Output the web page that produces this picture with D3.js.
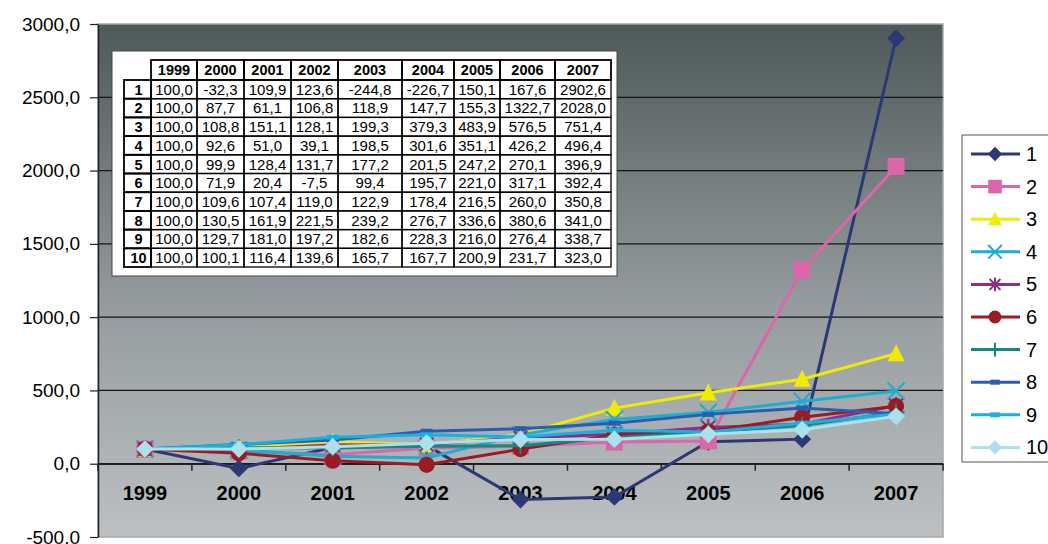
<!DOCTYPE html>
<html><head><meta charset="utf-8">
<script src="https://cdn.jsdelivr.net/npm/d3@7"></script>
<style>html,body{margin:0;padding:0;background:#fff;}svg{display:block;font-family:"Liberation Sans",Arial,sans-serif;}</style>
</head><body>
<svg id="chart" width="1048" height="544"></svg>
<script>
const years = ["1999","2000","2001","2002","2003","2004","2005","2006","2007"];
const seriesNames = ["1","2","3","4","5","6","7","8","9","10"];
const s1 = [100.0,-32.3,109.9,123.6,-244.8,-226.7,150.1,167.6,2902.6];
const s2 = [100.0,87.7,61.1,106.8,118.9,147.7,155.3,1322.7,2028.0];
const s3 = [100.0,108.8,151.1,128.1,199.3,379.3,483.9,576.5,751.4];
const s4 = [100.0,92.6,51.0,39.1,198.5,301.6,351.1,426.2,496.4];
const s5 = [100.0,99.9,128.4,131.7,177.2,201.5,247.2,270.1,396.9];
const s6 = [100.0,71.9,20.4,-7.5,99.4,195.7,221.0,317.1,392.4];
const s7 = [100.0,109.6,107.4,119.0,122.9,178.4,216.5,260.0,350.8];
const s8 = [100.0,130.5,161.9,221.5,239.2,276.7,336.6,380.6,341.0];
const s9 = [100.0,129.7,181.0,197.2,182.6,228.3,216.0,276.4,338.7];
const s10 = [100.0,100.1,116.4,139.6,165.7,167.7,200.9,231.7,323.0];
const yTicks = [-500,0,500,1000,1500,2000,2500,3000];

const seriesValues = [s1,s2,s3,s4,s5,s6,s7,s8,s9,s10];
const colors = ["#2c3875","#db66a9","#f0ec00","#1aaed0","#8c2d8c","#9a1c22","#17877f","#2a5db0","#14b2e4","#ace0ec"];
const markers = ["diamond","square","triangle","x","asterisk","circle","plus","dash","dash","diamond"];

const fmt = v => d3.format(".1f")(v).replace(".", ",").replace("−","-");

const svg = d3.select("#chart");
const L = 98, R = 943, T = 24, B = 537;

const x = d3.scaleBand().domain(years).range([L, R]).padding(0);
const y = d3.scaleLinear().domain([-500, 3000]).range([B, T]);

// background gradient
const defs = svg.append("defs");
const grad = defs.append("linearGradient").attr("id","bg").attr("x1",0).attr("y1",0).attr("x2",0).attr("y2",1);
grad.append("stop").attr("offset","0%").attr("stop-color","#4f5959");
grad.append("stop").attr("offset","55%").attr("stop-color","#959b9e");
grad.append("stop").attr("offset","100%").attr("stop-color","#bcc0c3");
svg.append("rect").attr("x",L).attr("y",T).attr("width",R-L).attr("height",B-T)
  .attr("fill","url(#bg)").attr("stroke","#a8a8a8").attr("stroke-width",1.5);

// gridlines
svg.append("g").selectAll("line").data(yTicks.filter(t => t > -500 && t < 3000)).join("line")
  .attr("x1",L).attr("x2",R).attr("y1",d=>y(d)).attr("y2",d=>y(d))
  .attr("stroke","#151515").attr("stroke-width",1.2);

// y axis
const yAxis = svg.append("g").attr("transform",`translate(${L},0)`)
  .call(d3.axisLeft(y).tickValues(yTicks).tickFormat(fmt).tickSize(8).tickPadding(10).tickSizeOuter(0));
yAxis.select(".domain").attr("stroke","#222").attr("stroke-width",1.5);
yAxis.selectAll(".tick line").attr("stroke","#222").attr("stroke-width",1.2);
yAxis.selectAll("text").attr("font-size",19).attr("fill","#000").attr("font-family","'Liberation Sans',Arial,sans-serif");

// x axis at 0
const x0 = y(0);
const xAxis = svg.append("g").attr("transform",`translate(0,${x0})`)
  .call(d3.axisBottom(x).tickSize(0).tickPadding(22).tickSizeOuter(0));
xAxis.select(".domain").attr("stroke","#222").attr("stroke-width",1.5);
xAxis.selectAll("text").attr("font-size",20).attr("font-weight","bold").attr("fill","#000")
  .attr("font-family","'Liberation Sans',Arial,sans-serif");
const bounds = years.map(d => x(d)).concat([x.range()[1]]);
svg.append("g").selectAll("line").data(bounds).join("line")
  .attr("x1",d=>d).attr("x2",d=>d).attr("y1",x0).attr("y2",x0+7)
  .attr("stroke","#222").attr("stroke-width",1.5);

// marker drawing
function drawMarker(g, type, color, s) {
  const r = 8.5 * s;
  switch(type) {
    case "diamond":
      g.append("path").attr("d",`M0,${-r*1.05}L${r*1.05},0L0,${r*1.05}L${-r*1.05},0Z`).attr("fill",color); break;
    case "square":
      g.append("rect").attr("x",-r).attr("y",-r).attr("width",2*r).attr("height",2*r).attr("fill",color); break;
    case "triangle":
      g.append("path").attr("d",`M0,${-r*1.1}L${r},${r*0.9}L${-r},${r*0.9}Z`).attr("fill",color); break;
    case "circle":
      g.append("circle").attr("r",r*0.95).attr("fill",color); break;
    case "x":
      g.append("path").attr("d",`M${-r},${-r}L${r},${r}M${-r},${r}L${r},${-r}`).attr("stroke",color).attr("stroke-width",2); break;
    case "asterisk":
      g.append("path").attr("d",`M${-r*0.8},${-r*0.8}L${r*0.8},${r*0.8}M${-r*0.8},${r*0.8}L${r*0.8},${-r*0.8}M0,${-r}L0,${r}`).attr("stroke",color).attr("stroke-width",2); break;
    case "plus":
      g.append("path").attr("d",`M0,${-r}L0,${r}M${-r},0L${r},0`).attr("stroke",color).attr("stroke-width",2); break;
    case "dash":
      g.append("rect").attr("x",-r*0.7).attr("y",-2.5).attr("width",r*1.4).attr("height",5).attr("fill",color); break;
  }
}

// series
const line = d3.line().x((d,i)=>x(years[i])+x.bandwidth()/2).y(d=>y(d));
const sg = svg.append("g");
seriesValues.forEach((vals, k) => {
  const g = sg.append("g");
  g.append("path").attr("d", line(vals)).attr("fill","none").attr("stroke",colors[k]).attr("stroke-width",3);
  vals.forEach((v,i) => {
    const mg = g.append("g").attr("transform",`translate(${x(years[i])+x.bandwidth()/2},${y(v)})`);
    drawMarker(mg, markers[k], colors[k], 1);
  });
});

// data table
const tb = svg.append("g");
tb.append("rect").attr("x",112).attr("y",51).attr("width",505).attr("height",225)
  .attr("fill","#fff").attr("stroke","#444").attr("stroke-width",1);
const colEdges = [151,197,244,291,338,402,454,500,555,611];
const labelLeft = 124, headTop = 60, rowTop = 80, rowH = 18.7;
years.forEach((yr,i) => {
  tb.append("rect").attr("x",colEdges[i]).attr("y",headTop).attr("width",colEdges[i+1]-colEdges[i]).attr("height",rowTop-headTop)
    .attr("fill","none").attr("stroke","#000").attr("stroke-width",1.8);
  tb.append("text").attr("x",(colEdges[i]+colEdges[i+1])/2).attr("y",rowTop-5).attr("text-anchor","middle")
    .attr("font-size",14.5).attr("font-weight","bold").text(yr);
});
seriesValues.forEach((vals,k) => {
  const ry = rowTop + k*rowH;
  tb.append("rect").attr("x",labelLeft).attr("y",ry).attr("width",colEdges[0]-labelLeft).attr("height",rowH)
    .attr("fill","none").attr("stroke","#000").attr("stroke-width",1.8);
  tb.append("text").attr("x",(labelLeft+colEdges[0])/2+1).attr("y",ry+rowH-4).attr("text-anchor","middle")
    .attr("font-size",14.5).attr("font-weight","bold").text(seriesNames[k]);
  vals.forEach((v,i) => {
    tb.append("rect").attr("x",colEdges[i]).attr("y",ry).attr("width",colEdges[i+1]-colEdges[i]).attr("height",rowH)
      .attr("fill","none").attr("stroke","#000").attr("stroke-width",1.3);
    tb.append("text").attr("x",(colEdges[i]+colEdges[i+1])/2).attr("y",ry+rowH-4).attr("text-anchor","middle")
      .attr("font-size",15).text(fmt(v));
  });
});

// legend
const lg = svg.append("g");
lg.append("rect").attr("x",962).attr("y",135).attr("width",100).attr("height",327)
  .attr("fill","#fff").attr("stroke","#555").attr("stroke-width",1);
seriesNames.forEach((n,k) => {
  const ly = 154 + k*32.6;
  lg.append("line").attr("x1",971).attr("x2",1020).attr("y1",ly).attr("y2",ly).attr("stroke",colors[k]).attr("stroke-width",3);
  const mg = lg.append("g").attr("transform",`translate(995,${ly})`);
  drawMarker(mg, markers[k], colors[k], 0.8);
  lg.append("text").attr("x",1026).attr("y",ly+7).attr("font-size",20).attr("fill","#000").text(n);
});
</script>
</body></html>
